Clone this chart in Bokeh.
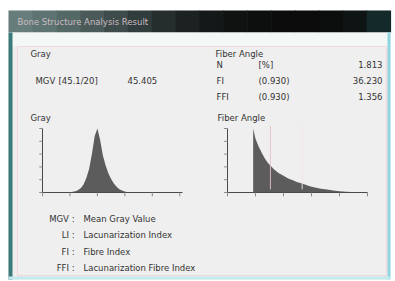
from bokeh.plotting import figure
from bokeh.models import Range1d
from bokeh.core.properties import value
from bokeh.embed import file_html
from bokeh.resources import INLINE

# ---- data ----
window_title = "Bone Structure Analysis Result"
gray_heading = "Gray"
fiber_heading = "Fiber Angle"
mgv_label = "MGV"
mgv_range = "[45.1/20]"
mgv_value = "45.405"
fiber_rows = ["N", "FI", "FFI"]
fiber_mid = ["[%]", "(0.930)", "(0.930)"]
fiber_vals = ["1.813", "36.230", "1.356"]
legend_keys = ["MGV :", "LI :", "FI :", "FFI :"]
legend_texts = ["Mean Gray Value", "Lacunarization Index", "Fibre Index",
                "Lacunarization Fibre Index"]

gray_values = [50, 55, 60, 65, 70, 75, 80, 85, 90, 95, 100, 105, 110, 115,
               120, 125, 130, 135, 140, 145, 150, 155, 160]
gray_counts = [0.0, 0.01, 0.02, 0.04, 0.07, 0.13, 0.23, 0.37, 0.60, 0.88,
               1.00, 0.82, 0.58, 0.42, 0.30, 0.21, 0.14, 0.09, 0.05, 0.03,
               0.015, 0.005, 0.0]
gray_ticks = [0, 50, 100, 150, 200, 250]

angle_values = [16.5, 18, 20, 22, 24, 26, 28, 30, 33, 36, 39, 42, 45, 48,
                51, 54, 57, 60, 64, 68, 72, 76, 80, 85]
angle_counts = [1.0, 0.84, 0.72, 0.62, 0.53, 0.46, 0.41, 0.36, 0.30, 0.26,
                0.22, 0.19, 0.16, 0.14, 0.115, 0.09, 0.075, 0.06, 0.045,
                0.03, 0.02, 0.012, 0.006, 0.002]
angle_ticks = [0, 18, 36, 54, 72, 90]
angle_markers = [27.6, 48]
count_ticks = [0, 0.2, 0.4, 0.6, 0.8, 1.0]

FONT = value("DejaVu Sans")

W, H = 395, 281
p = figure(width=W, height=H, output_backend="svg", toolbar_location=None,
           x_range=Range1d(0, W), y_range=Range1d(H, 0),
           min_border=0, outline_line_color=None)
p.axis.visible = False
p.grid.visible = False
p.background_fill_color = "white"
p.border_fill_color = "white"

# window body
p.quad(left=8, right=390, top=10, bottom=279, fill_color="#eeeeee", line_color=None)
# title bar gradient
cols = ["#667d7b", "#5e7472", "#546866", "#495a59", "#3d4b4a", "#313c3c",
        "#262d2d", "#1c2121", "#151818", "#101212", "#0d0e0e", "#0c0c0c",
        "#0c0c0c", "#0c0d0d", "#0e1414", "#14292a"]
n = len(cols)
for i, c in enumerate(cols):
    x0 = 8 + i * (382 / n)
    p.quad(left=x0, right=x0 + 382 / n + 0.6, top=10, bottom=32,
           fill_color=c, line_color=None)
p.text(x=[17], y=[21], text=[window_title], text_font=FONT,
       text_font_size="8.5px", text_color="#cbbcc3", text_baseline="middle")
# light band under title
p.quad(left=8, right=390, top=32, bottom=46, fill_color="#f3f7f5", line_color=None)
# borders
p.quad(left=8, right=12, top=32, bottom=279, fill_color="#3b7a78", line_color=None)
p.quad(left=387, right=390, top=32, bottom=279, fill_color="#8fd6de", line_color=None)
p.quad(left=8, right=390, top=276, bottom=279, fill_color="#c2eaee", line_color=None)
# inner panel
p.quad(left=17, right=386, top=46, bottom=275, fill_color="#efefef",
       line_color="#f2d6db", line_width=1)

def txt(x, y, s, align="left", color="#333333"):
    p.text(x=[x], y=[y], text=[s], text_font=FONT, text_font_size="8.5px",
           text_color=color, text_baseline="middle", text_align=align)

txt(30, 53, gray_heading)
txt(35, 80, mgv_label)
txt(58, 80, mgv_range)
txt(127, 80, mgv_value)

txt(215, 53, fiber_heading)
for i, (a, b, c) in enumerate(zip(fiber_rows, fiber_mid, fiber_vals)):
    y = 64 + i * 16
    txt(216, y, a)
    txt(258, y, b)
    txt(382, y, c, align="right")

txt(30, 117, gray_heading)
txt(217, 117, fiber_heading)

for i, (k, t) in enumerate(zip(legend_keys, legend_texts)):
    y = 218 + i * 16.5
    txt(74, y, k, align="right")
    txt(83, y, t)

# ---- histogram: gray ----
g = p.subplot(x_source=Range1d(0, 255), y_source=Range1d(0, 1.0),
              x_target=Range1d(42, 182), y_target=Range1d(192, 128))
g.varea(x=gray_values, y1=[0] * len(gray_values), y2=gray_counts,
        fill_color="#5c5c5c")
g.segment(x0=[0], y0=[0], x1=[255], y1=[0], line_color="#4a4a4a", line_width=1)
g.segment(x0=[0], y0=[0], x1=[0], y1=[1.0], line_color="#4a4a4a", line_width=1)
g.segment(x0=gray_ticks, y0=[0] * len(gray_ticks), x1=gray_ticks,
          y1=[-0.06] * len(gray_ticks), line_color="#8a8a8a", line_width=1)
g.segment(x0=[0] * len(count_ticks), y0=count_ticks, x1=[-6] * len(count_ticks),
          y1=count_ticks, line_color="#8a8a8a", line_width=1)

# ---- histogram: fiber angle ----
a = p.subplot(x_source=Range1d(0, 90), y_source=Range1d(0, 1.0),
              x_target=Range1d(227, 367), y_target=Range1d(192, 128))
a.varea(x=angle_values, y1=[0] * len(angle_values), y2=angle_counts,
        fill_color="#5c5c5c")
a.segment(x0=angle_markers, y0=[0.05, 0.05], x1=angle_markers, y1=[1.04, 1.04],
          line_color=["#eabcc7", "#f3e2e6"], line_width=1, line_alpha=0.9)
a.segment(x0=[0], y0=[0], x1=[90], y1=[0], line_color="#4a4a4a", line_width=1)
a.segment(x0=[0], y0=[0], x1=[0], y1=[1.0], line_color="#4a4a4a", line_width=1)
a.segment(x0=angle_ticks, y0=[0] * len(angle_ticks), x1=angle_ticks,
          y1=[-0.06] * len(angle_ticks), line_color="#8a8a8a", line_width=1)
a.segment(x0=[0] * len(count_ticks), y0=count_ticks, x1=[-2.2] * len(count_ticks),
          y1=count_ticks, line_color="#8a8a8a", line_width=1)

open("out.html", "w").write(file_html(p, INLINE))
